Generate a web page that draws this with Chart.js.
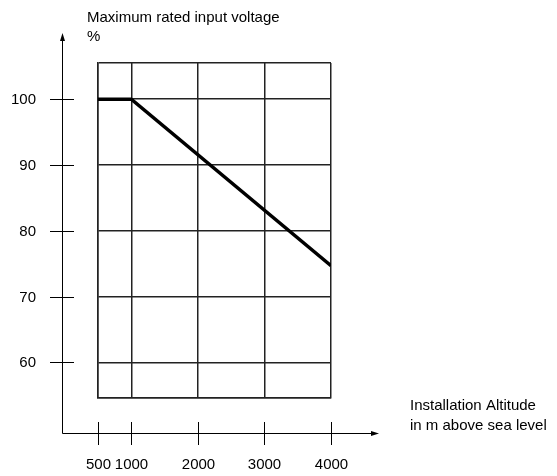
<!DOCTYPE html>
<html>
<head>
<meta charset="utf-8">
<script src="https://cdn.jsdelivr.net/npm/chart.js@4"></script>
<style>
    body { margin: 0; background: #fff; }
    canvas { display: block; }
</style>
</head>
<body>
<canvas id="derating-chart" width="557" height="476"></canvas>
<script>
// data
const altitudes = [500, 1000, 4000];
const voltagePct = [100, 100, 74.7];
const xTicks = [500, 1000, 2000, 3000, 4000];
const yTicks = [60, 70, 80, 90, 100];
const yMin = 54.6;
const yMax = 105.5;

const FONT = '15px "Liberation Sans", Arial, sans-serif';

// axes with arrows sit apart from the grid box, so they are drawn by hand
const detachedAxes = {
    id: 'detachedAxes',
    afterDraw(chart) {
        const ctx = chart.ctx;
        const xs = chart.scales.x;
        const ys = chart.scales.y;
        const axisX = 62.5;
        const axisY = 433.5;

        ctx.save();
        ctx.strokeStyle = '#000';
        ctx.fillStyle = '#000';
        ctx.lineWidth = 1;

        // y axis + arrow
        ctx.beginPath();
        ctx.moveTo(axisX, axisY);
        ctx.lineTo(axisX, 40);
        ctx.stroke();
        ctx.beginPath();
        ctx.moveTo(axisX, 33);
        ctx.lineTo(axisX - 2.5, 41);
        ctx.lineTo(axisX + 2.5, 41);
        ctx.closePath();
        ctx.fill();

        // x axis + arrow
        ctx.beginPath();
        ctx.moveTo(axisX, axisY);
        ctx.lineTo(371, axisY);
        ctx.stroke();
        ctx.beginPath();
        ctx.moveTo(379, axisY);
        ctx.lineTo(371, axisY - 2.5);
        ctx.lineTo(371, axisY + 2.5);
        ctx.closePath();
        ctx.fill();

        ctx.font = FONT;

        // y ticks and labels
        ctx.textAlign = 'right';
        ctx.textBaseline = 'middle';
        yTicks.forEach(v => {
            const py = Math.round(ys.getPixelForValue(v)) + 0.5;
            ctx.beginPath();
            ctx.moveTo(50, py);
            ctx.lineTo(74, py);
            ctx.stroke();
            ctx.fillText(String(v), 36, py);
        });

        // x ticks and labels
        ctx.textAlign = 'center';
        ctx.textBaseline = 'middle';
        xTicks.forEach(v => {
            const px = Math.round(xs.getPixelForValue(v)) + 0.5;
            ctx.beginPath();
            ctx.moveTo(px, 422);
            ctx.lineTo(px, 445);
            ctx.stroke();
            ctx.fillText(String(v), px, 465);
        });

        // axis titles
        ctx.textAlign = 'left';
        ctx.textBaseline = 'alphabetic';
        ctx.fillText('Maximum rated input voltage', 87, 22);
        ctx.fillText('%', 87, 41);
        ctx.fillText('Installation Altitude', 410, 410);
        ctx.fillText('in m above sea level', 410, 430);

        ctx.restore();
    }
};

const ctx = document.getElementById('derating-chart').getContext('2d');
new Chart(ctx, {
    type: 'line',
    data: {
        datasets: [{
            label: 'Maximum rated input voltage',
            data: altitudes.map((a, i) => ({ x: a, y: voltagePct[i] })),
            borderColor: '#000',
            borderWidth: 3.5,
            pointRadius: 0,
            tension: 0,
            fill: false
        }]
    },
    options: {
        responsive: false,
        animation: false,
        layout: {
            padding: { left: 98, right: 226, top: 63, bottom: 78 }
        },
        plugins: {
            legend: { display: false },
            tooltip: { enabled: false }
        },
        scales: {
            x: {
                type: 'linear',
                min: xTicks[0],
                max: xTicks[xTicks.length - 1],
                afterBuildTicks: axis => {
                    axis.ticks = xTicks.map(v => ({ value: v }));
                },
                ticks: { display: false },
                grid: { color: '#222', lineWidth: 1.5, drawTicks: false },
                border: { color: '#222', width: 1.5 }
            },
            y: {
                type: 'linear',
                min: yMin,
                max: yMax,
                afterBuildTicks: axis => {
                    axis.ticks = [yMin].concat(yTicks, [yMax]).map(v => ({ value: v }));
                },
                ticks: { display: false },
                grid: { color: '#222', lineWidth: 1.5, drawTicks: false },
                border: { color: '#222', width: 1.5 }
            }
        }
    },
    plugins: [detachedAxes]
});
</script>
</body>
</html>
